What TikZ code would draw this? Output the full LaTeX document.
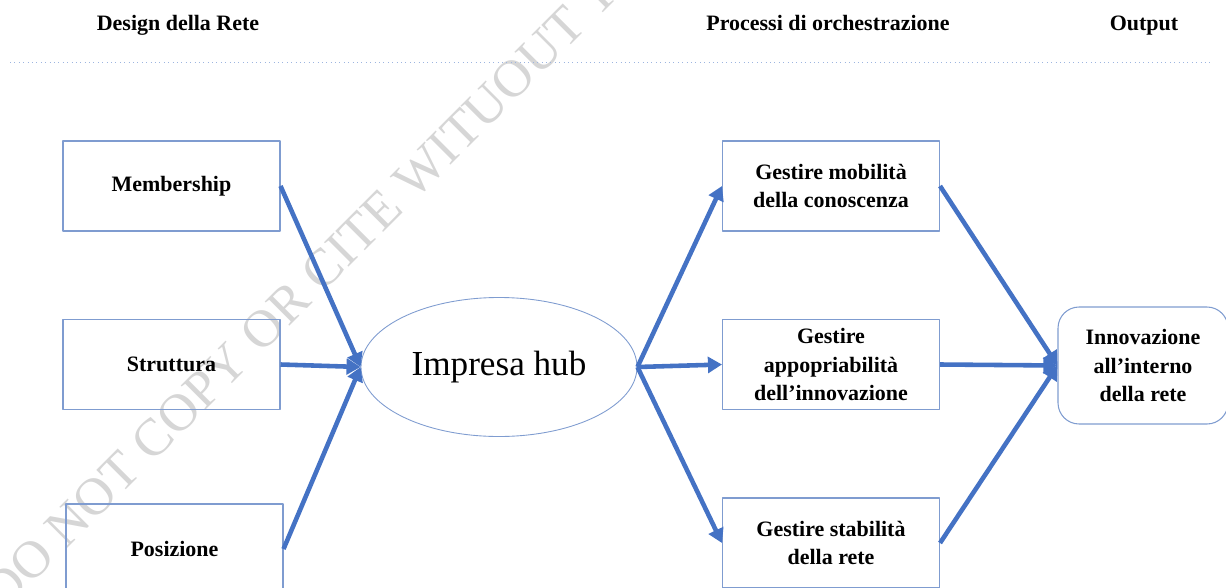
\documentclass[tikz,border=0pt]{standalone}
\usepackage{fontspec}
\setmainfont{Liberation Serif}
\usetikzlibrary{arrows.meta,shapes.geometric}
\definecolor{ppblue}{HTML}{4472C4}
\definecolor{ppline}{HTML}{7F9CD0}
\definecolor{ppdot}{HTML}{9DB5E0}
\begin{document}
\begin{tikzpicture}[line join=round,
 box/.style={draw=ppline,line width=.6pt,minimum width=4.34cm,minimum height=1.8cm,
  align=center,font=\fontsize{12.5}{16}\selectfont\bfseries},
 head/.style={anchor=base,font=\fontsize{12.5}{15}\selectfont\bfseries},
 arr/.style={draw=ppblue,line width=2.6pt,-{Triangle[length=8pt,width=9pt]}}]
 \useasboundingbox (0,0) rectangle (24.52,11.74);
 % filigrana
 \node[rotate=45,anchor=base west,text=gray!32,font=\fontsize{30}{30}\selectfont]
  (wm) at (-0.02,-0.6) {DO NOT COPY OR CITE WITUOUT T};
 % intestazioni
 \node[head] (hdes) at (3.56,11.12) {Design della Rete};
 \node[head] (hproc) at (16.56,11.12) {Processi di orchestrazione};
 \node[head] (hout) at (22.88,11.12) {Output};
 \draw[ppdot,dotted,line width=.5pt] (0.2,10.5) -- (24.2,10.5);
 % design della rete
 \node[box] (mem) at (3.43,8.02) {Membership};
 \node[box] (str) at (3.43,4.45) {Struttura};
 \node[box] (pos) at (3.49,0.76) {Posizione};
 % impresa hub
 \node[ellipse,draw=ppline,line width=.5pt,minimum width=5.52cm,minimum height=2.78cm,
  font=\fontsize{20}{24}\selectfont] (hub) at (9.98,4.40) {Impresa hub};
 % processi
 \node[box] (gmob) at (16.62,8.02) {Gestire mobilità\\della conoscenza};
 \node[box] (gapp) at (16.62,4.45) {Gestire\\appopriabilità\\dell’innovazione};
 \node[box] (gstab) at (16.62,0.88) {Gestire stabilità\\della rete};
 % output
 \node[draw=ppline,line width=.6pt,rounded corners=12pt,minimum width=3.4cm,minimum height=2.34cm,
  align=center,font=\fontsize{12.5}{16}\selectfont\bfseries] (innov) at (22.86,4.43)
  {Innovazione\\all’interno\\della rete};
 % frecce
 \draw[arr] (mem.east) -- (hub.west);
 \draw[arr] (str.east) -- (hub.west);
 \draw[arr] (pos.east) -- (hub.west);
 \draw[arr] (hub.east) -- (gmob.west);
 \draw[arr] (hub.east) -- (gapp.west);
 \draw[arr] (hub.east) -- (gstab.west);
 \draw[arr] (gmob.east) -- (innov.west);
 \draw[arr] (gapp.east) -- (innov.west);
 \draw[arr] (gstab.east) -- (innov.west);
\end{tikzpicture}
\end{document}
